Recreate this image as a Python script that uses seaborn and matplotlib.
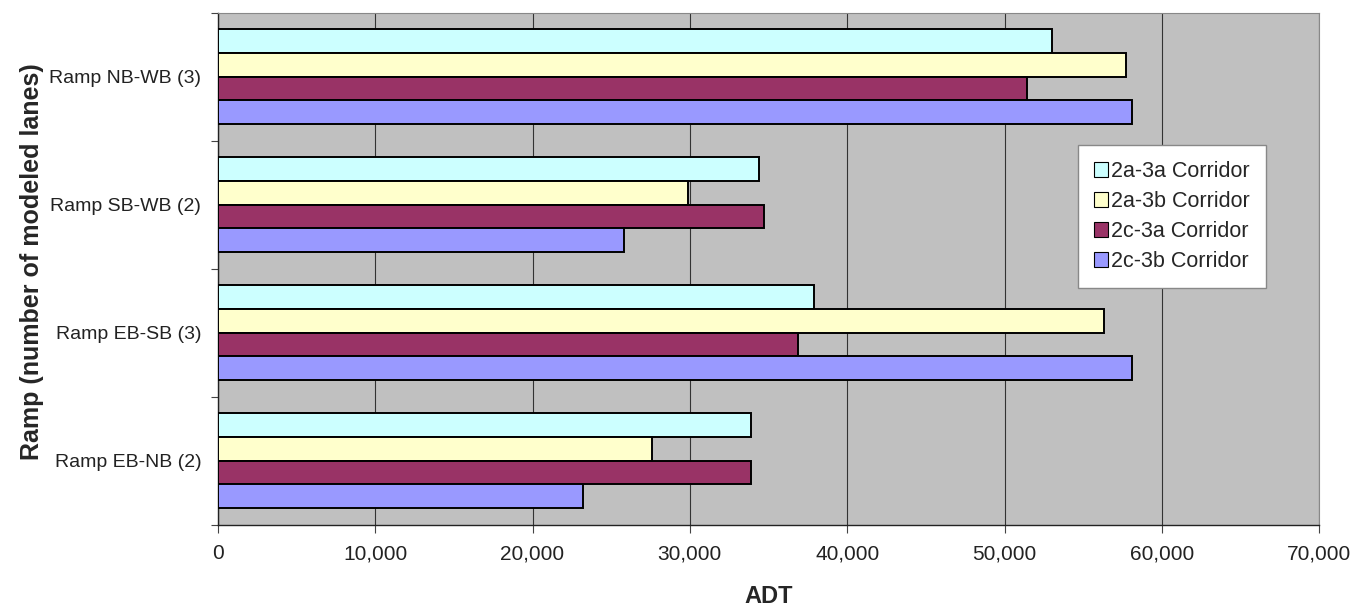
import numpy as np
import pandas as pd
import seaborn as sns
import matplotlib.pyplot as plt
from matplotlib.ticker import FuncFormatter, FixedLocator

ramps = ['Ramp NB-WB (3)', 'Ramp SB-WB (2)', 'Ramp EB-SB (3)', 'Ramp EB-NB (2)']
scenarios = ['2a-3a Corridor', '2a-3b Corridor', '2c-3a Corridor', '2c-3b Corridor']
adt_2a_3a = [53000, 34400, 37900, 33900]
adt_2a_3b = [57700, 29900, 56300, 27600]
adt_2c_3a = [51400, 34700, 36900, 33900]
adt_2c_3b = [58100, 25800, 58100, 23200]

colors = ['#CCFFFF', '#FFFFCC', '#993366', '#9999FF']

df = pd.DataFrame({
    'Ramp': ramps * 4,
    'Scenario': np.repeat(scenarios, len(ramps)),
    'ADT': adt_2a_3a + adt_2a_3b + adt_2c_3a + adt_2c_3b,
})

sns.set_style('white')
plt.rcParams['font.family'] = ['Liberation Sans', 'DejaVu Sans']

fig, ax = plt.subplots(figsize=(13.53, 6.08), dpi=100)
fig.subplots_adjust(left=0.161, right=0.975, top=0.979, bottom=0.137)

sns.barplot(data=df, x='ADT', y='Ramp', hue='Scenario', order=ramps,
            hue_order=scenarios, palette=colors, saturation=1, width=0.74,
            edgecolor='black', linewidth=1.4, ax=ax, zorder=3)

ax.set_facecolor('#C0C0C0')
ax.set_xlim(0, 70000)
ax.set_ylim(3.5, -0.5)
ax.xaxis.set_major_locator(FixedLocator(np.arange(0, 70001, 10000)))
ax.xaxis.set_major_formatter(FuncFormatter(lambda v, p: f'{int(v):,}'))
ax.grid(axis='x', color='#333333', linewidth=0.8, zorder=0)
ax.set_axisbelow(True)

for side in ['top', 'right']:
    ax.spines[side].set_color('#888888')
    ax.spines[side].set_linewidth(0.8)
for side in ['left', 'bottom']:
    ax.spines[side].set_color('#222222')
    ax.spines[side].set_linewidth(1.0)

ax.tick_params(axis='x', direction='out', length=6, width=0.8, color='#444444',
               labelsize=15, labelcolor='#222222', pad=8, bottom=True)
ax.tick_params(axis='y', which='major', length=0, labelsize=14,
               labelcolor='#222222', pad=12)
ax.yaxis.set_minor_locator(FixedLocator(np.arange(-0.5, 4, 1)))
ax.tick_params(axis='y', which='minor', left=True, direction='out', length=5,
               width=0.8, color='#444444')

ax.set_xlabel('ADT', fontsize=17, fontweight='bold', labelpad=16)
ax.set_ylabel('Ramp (number of modeled lanes)', fontsize=18, fontweight='bold')
ax.yaxis.set_label_coords(-0.158, 0.514)

leg = ax.legend(loc='upper left', bbox_to_anchor=(0.771, 0.763), fontsize=15.5,
                handlelength=0.65, handleheight=0.65, handletextpad=0.15,
                labelspacing=0.42, borderpad=0.75, frameon=True, fancybox=False,
                framealpha=1)
leg.get_frame().set_edgecolor('#888888')
leg.get_frame().set_linewidth(1.0)
for h in leg.legend_handles:
    h.set_edgecolor('black')
    h.set_linewidth(0.8)

plt.savefig('out.png', dpi=100)
